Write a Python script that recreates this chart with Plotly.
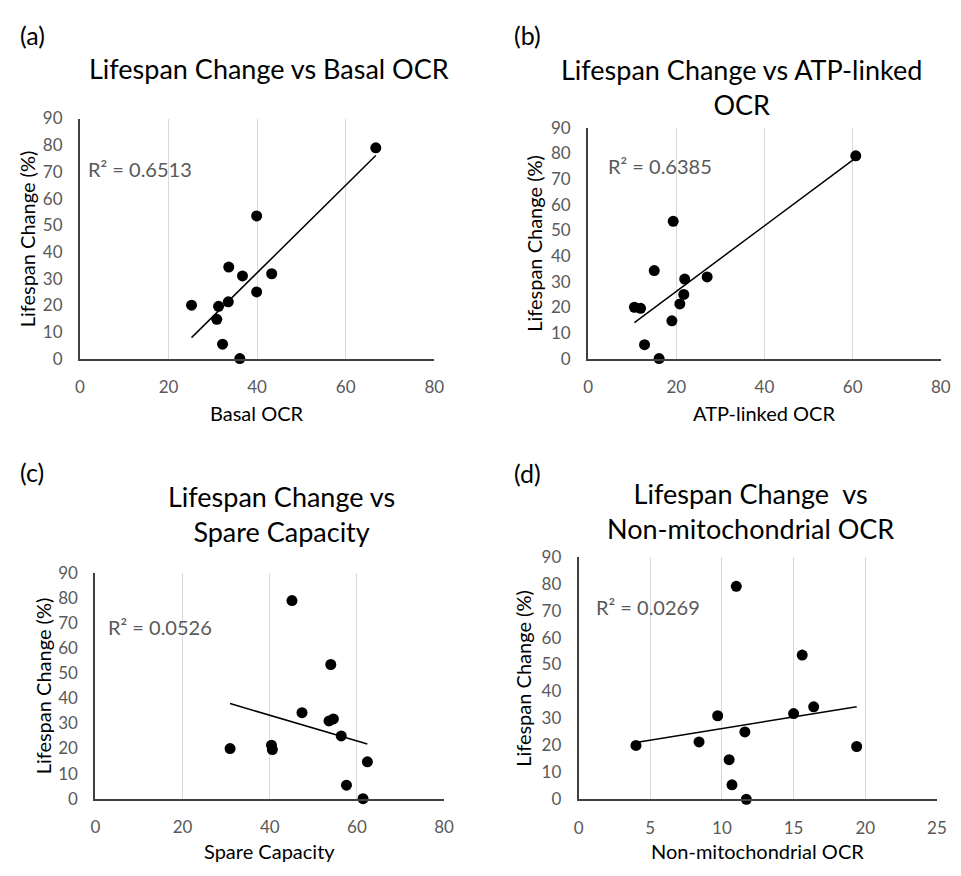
import numpy as np
import plotly.graph_objects as go

# ---- data ----
lifespan_change = [79.0, 53.5, 34.3, 31.0, 31.8, 25.0, 21.3, 20.0, 19.6, 14.7, 5.4, 0.0]
basal_ocr = [66.8, 39.9, 33.6, 36.7, 43.3, 39.9, 33.5, 25.2, 31.3, 30.9, 32.2, 36.1]
atp_linked_ocr = [60.7, 19.3, 15.0, 21.9, 27.0, 21.7, 20.8, 10.5, 11.9, 19.0, 12.8, 16.1]
spare_capacity = [45.1, 54.0, 47.4, 53.6, 54.6, 56.4, 40.4, 30.9, 40.6, 62.4, 57.6, 61.4]
non_mito_ocr = [11.0, 15.6, 16.4, 9.7, 15.0, 11.6, 8.4, 4.0, 19.4, 10.5, 10.7, 11.7]

panel_labels = ["(a)", "(b)", "(c)", "(d)"]
titles = ["Lifespan Change vs Basal OCR",
          "Lifespan Change vs ATP-linked<br>OCR",
          "Lifespan Change vs<br>Spare Capacity",
          "Lifespan Change  vs<br>Non-mitochondrial OCR"]
x_titles = ["Basal OCR", "ATP-linked OCR", "Spare Capacity", "Non-mitochondrial OCR"]
y_title = "Lifespan Change (%)"
r2_labels = ["R\u00b2 = 0.6513", "R\u00b2 = 0.6385", "R\u00b2 = 0.0526", "R\u00b2 = 0.0269"]
x_ranges = [[0, 80], [0, 80], [0, 80], [0, 25]]
x_dticks = [20, 20, 20, 5]
y_range = [0, 90]
y_dtick = 10

x_series = [basal_ocr, atp_linked_ocr, spare_capacity, non_mito_ocr]

# ---- layout geometry (window pixels; page body has an 8px margin) ----
OFF = 8
W, H = 961 - OFF, 876 - OFF
# plot areas: (left, right, top, bottom) in window px
areas = [(76, 436, 110, 356), (592.3, 950.7, 119.3, 356),
         (91.7, 446, 575.7, 807), (582.7, 946.7, 559, 807.7)]
label_pos = [(13, 24), (515, 24), (13, 472), (515, 473)]
title_pos = [(268, 59), (748, 78), (281, 515), (757, 512)]
xtitle_y = [412, 412, 861, 861]
ytitle_x = [22, 537, 38, 526]
r2_pos = [(82, 162), (610, 159), (102, 631), (598, 611)]

FONT = "Lato"
TICK_COLOR = "#595959"
AXIS_COLOR = "#404040"

def px(x):
    return (x - OFF) / W

def py(y):
    return 1 - (y - OFF) / H

fig = go.Figure()
annotations = []
layout_axes = {}

for i in range(4):
    n = "" if i == 0 else str(i + 1)
    l, r, t, b = areas[i]
    xs = x_series[i]
    ys = lifespan_change
    # scatter points
    fig.add_trace(go.Scatter(
        x=xs, y=ys, mode="markers",
        marker=dict(color="black", size=11),
        xaxis="x" + n, yaxis="y" + n, cliponaxis=False, showlegend=False,
        hoverinfo="x+y"))
    # linear trendline
    slope, intercept = np.polyfit(xs, ys, 1)
    xl = np.array([min(xs), max(xs)])
    fig.add_trace(go.Scatter(
        x=xl, y=slope * xl + intercept, mode="lines",
        line=dict(color="black", width=1.5),
        xaxis="x" + n, yaxis="y" + n, cliponaxis=False, showlegend=False,
        hoverinfo="skip"))

    layout_axes["xaxis" + n] = dict(
        domain=[px(l), px(r)], anchor="y" + n, range=x_ranges[i], dtick=x_dticks[i],
        tick0=0, showgrid=True, gridcolor="#d9d9d9", gridwidth=1, zeroline=False,
        showline=True, linecolor=AXIS_COLOR, linewidth=2, ticks="",
        ticklabelstandoff=12,
        tickfont=dict(family=FONT, size=17, color=TICK_COLOR), fixedrange=True)
    layout_axes["yaxis" + n] = dict(
        domain=[py(b), py(t)], anchor="x" + n, range=y_range, dtick=y_dtick,
        tick0=0, showgrid=False, zeroline=False,
        showline=True, linecolor=AXIS_COLOR, linewidth=2, ticks="",
        ticklabelstandoff=12,
        tickfont=dict(family=FONT, size=17, color=TICK_COLOR), fixedrange=True)

    # panel label
    annotations.append(dict(text=panel_labels[i], x=px(label_pos[i][0]), y=py(label_pos[i][1]),
                            xref="paper", yref="paper", xanchor="left", yanchor="middle",
                            showarrow=False, font=dict(family=FONT, size=25, color="black")))
    # chart title
    annotations.append(dict(text=titles[i], x=px(title_pos[i][0]), y=py(title_pos[i][1]),
                            xref="paper", yref="paper", xanchor="center", yanchor="middle",
                            showarrow=False, font=dict(family=FONT, size=27, color="black")))
    # x title
    annotations.append(dict(text=x_titles[i], x=px((l + r) / 2), y=py(xtitle_y[i]),
                            xref="paper", yref="paper", xanchor="center", yanchor="middle",
                            showarrow=False, font=dict(family=FONT, size=20, color="black")))
    # y title
    annotations.append(dict(text=y_title, x=px(ytitle_x[i]), y=py((t + b) / 2),
                            xref="paper", yref="paper", xanchor="center", yanchor="middle",
                            textangle=-90,
                            showarrow=False, font=dict(family=FONT, size=20, color="black")))
    # R^2 label
    annotations.append(dict(text=r2_labels[i], x=px(r2_pos[i][0]), y=py(r2_pos[i][1]),
                            xref="paper", yref="paper", xanchor="left", yanchor="middle",
                            showarrow=False, font=dict(family=FONT, size=20, color=TICK_COLOR)))

fig.update_layout(
    width=W, height=H,
    margin=dict(l=0, r=0, t=0, b=0),
    paper_bgcolor="white", plot_bgcolor="white",
    showlegend=False,
    annotations=annotations,
    **layout_axes)

fig.write_html("out.html")
